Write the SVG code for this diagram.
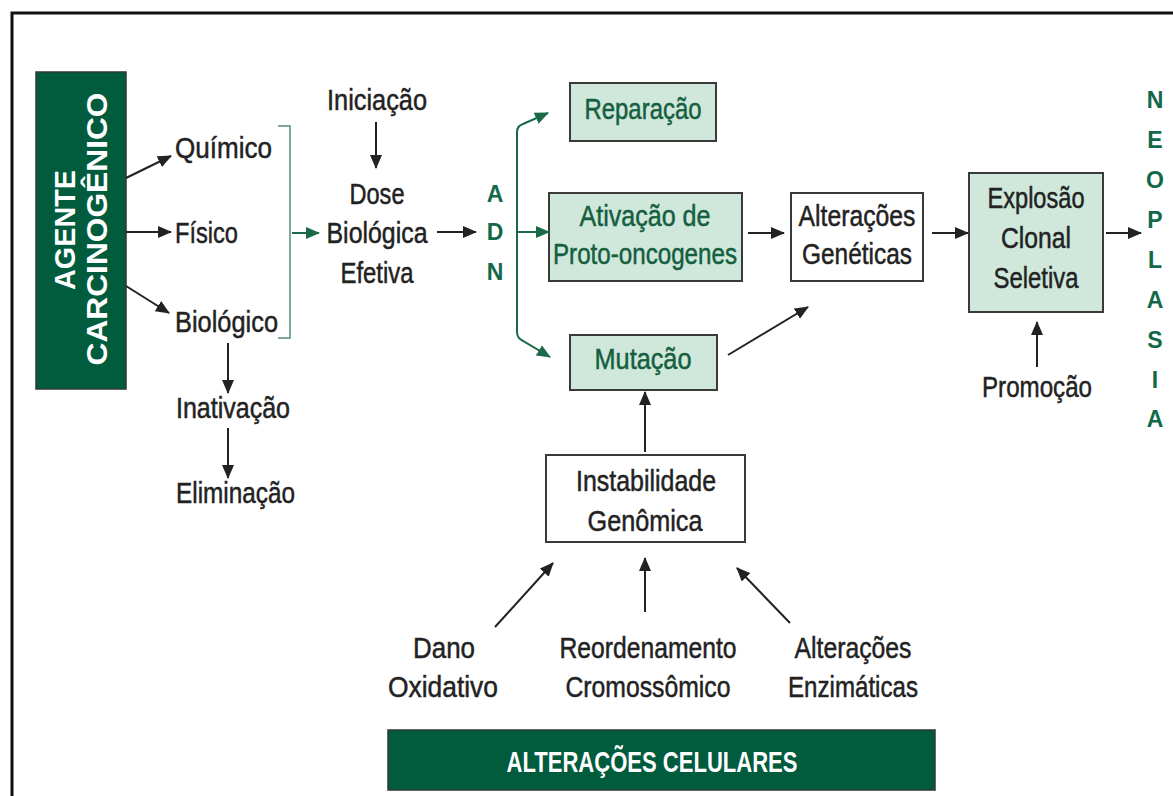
<svg xmlns="http://www.w3.org/2000/svg" width="1173" height="796" viewBox="0 0 1173 796">
<defs>
<style>
.t{font-family:"Liberation Sans",Arial,sans-serif;font-size:30px;fill:#222;stroke:#222;stroke-width:0.5;text-anchor:middle}
.s{text-anchor:start}
.g{fill:#155e3f;stroke:#155e3f}
.w{fill:#ffffff;stroke:none;font-weight:bold}
.L{font-family:"Liberation Sans",Arial,sans-serif;font-size:23px;font-weight:bold;fill:#12694a;text-anchor:middle}
.box{stroke:#3a3a3a;stroke-width:2}
.mint{fill:#cfe8db}
.wht{fill:#ffffff}
.dk{fill:#015b3d;stroke:#2c3a33;stroke-width:1.5}
.a{stroke:#222;stroke-width:2;fill:none;marker-end:url(#ab)}
.ag{stroke:#1a6a4a;stroke-width:2;fill:none;marker-end:url(#ag)}
</style>
<marker id="ab" markerUnits="userSpaceOnUse" markerWidth="14" markerHeight="12" viewBox="0 0 14 12" refX="13" refY="6" orient="auto">
<path d="M0,0 L14,6 L0,12 Z" fill="#222"/>
</marker>
<marker id="ag" markerUnits="userSpaceOnUse" markerWidth="14" markerHeight="12" viewBox="0 0 14 12" refX="13" refY="6" orient="auto">
<path d="M0,0 L14,6 L0,12 Z" fill="#1a6a4a"/>
</marker>
</defs>
<rect width="1173" height="796" fill="#ffffff"/>
<path d="M12,796 L12,13 L1173,13" fill="none" stroke="#111" stroke-width="3"/>

<g id="agente">
<rect class="dk" x="36" y="72" width="90" height="317"/>
<text class="t w" font-size="25" transform="translate(75,230) rotate(-90)" textLength="120" lengthAdjust="spacingAndGlyphs">AGENTE</text>
<text class="t w" font-size="26" transform="translate(107,229) rotate(-90)" textLength="273" lengthAdjust="spacingAndGlyphs">CARCINOGÊNICO</text>
</g>
<g id="quimico"><text class="t s" x="175" y="158" textLength="97" lengthAdjust="spacingAndGlyphs">Químico</text></g>
<g id="fisico"><text class="t s" x="175" y="243" textLength="63" lengthAdjust="spacingAndGlyphs">Físico</text></g>
<g id="biologico"><text class="t s" x="175" y="332" textLength="103" lengthAdjust="spacingAndGlyphs">Biológico</text></g>
<g id="inativacao"><text class="t s" x="176" y="418" textLength="114" lengthAdjust="spacingAndGlyphs">Inativação</text></g>
<g id="eliminacao"><text class="t s" x="176" y="503" textLength="119" lengthAdjust="spacingAndGlyphs">Eliminação</text></g>
<g id="iniciacao"><text class="t" x="377" y="110" textLength="100" lengthAdjust="spacingAndGlyphs">Iniciação</text></g>
<g id="dose">
<text class="t" x="377" y="204" textLength="55" lengthAdjust="spacingAndGlyphs">Dose</text>
<text class="t" x="377" y="243" textLength="101" lengthAdjust="spacingAndGlyphs">Biológica</text>
<text class="t" x="377" y="283" textLength="73" lengthAdjust="spacingAndGlyphs">Efetiva</text>
</g>
<g id="adn">
<text class="L" x="495" y="202">A</text>
<text class="L" x="495" y="240">D</text>
<text class="L" x="495" y="280">N</text>
</g>
<g id="reparacao">
<rect class="box mint" x="570" y="83" width="146" height="58"/>
<text class="t g" x="643" y="119" textLength="117" lengthAdjust="spacingAndGlyphs">Reparação</text>
</g>
<g id="ativacao">
<rect class="box mint" x="549" y="193" width="193" height="88"/>
<text class="t g" x="645" y="226" textLength="131" lengthAdjust="spacingAndGlyphs">Ativação de</text>
<text class="t g" x="645" y="264" textLength="184" lengthAdjust="spacingAndGlyphs">Proto-oncogenes</text>
</g>
<g id="mutacao">
<rect class="box mint" x="570" y="335" width="147" height="55"/>
<text class="t g" x="643" y="369" textLength="97" lengthAdjust="spacingAndGlyphs">Mutação</text>
</g>
<g id="alteracoes-geneticas">
<rect class="box wht" x="791" y="193" width="132" height="88"/>
<text class="t" x="857" y="226" textLength="117" lengthAdjust="spacingAndGlyphs">Alterações</text>
<text class="t" x="857" y="264" textLength="110" lengthAdjust="spacingAndGlyphs">Genéticas</text>
</g>
<g id="explosao">
<rect class="box mint" x="969" y="173" width="134" height="139"/>
<text class="t" x="1036" y="208" textLength="97" lengthAdjust="spacingAndGlyphs">Explosão</text>
<text class="t" x="1036" y="248" textLength="70" lengthAdjust="spacingAndGlyphs">Clonal</text>
<text class="t" x="1036" y="288" textLength="85" lengthAdjust="spacingAndGlyphs">Seletiva</text>
</g>
<g id="neoplasia">
<text class="L" x="1155" y="108">N</text>
<text class="L" x="1155" y="148">E</text>
<text class="L" x="1155" y="188">O</text>
<text class="L" x="1155" y="228">P</text>
<text class="L" x="1155" y="268">L</text>
<text class="L" x="1155" y="308">A</text>
<text class="L" x="1155" y="348">S</text>
<text class="L" x="1155" y="388">I</text>
<text class="L" x="1155" y="427">A</text>
</g>
<g id="promocao"><text class="t" x="1037" y="397" textLength="110" lengthAdjust="spacingAndGlyphs">Promoção</text></g>
<g id="instabilidade">
<rect class="box wht" x="546" y="455" width="199" height="87"/>
<text class="t" x="646" y="491" textLength="140" lengthAdjust="spacingAndGlyphs">Instabilidade</text>
<text class="t" x="645" y="531" textLength="115" lengthAdjust="spacingAndGlyphs">Genômica</text>
</g>
<g id="dano">
<text class="t" x="444" y="658" textLength="62" lengthAdjust="spacingAndGlyphs">Dano</text>
<text class="t" x="443" y="697" textLength="110" lengthAdjust="spacingAndGlyphs">Oxidativo</text>
</g>
<g id="reordenamento">
<text class="t" x="648" y="658" textLength="177" lengthAdjust="spacingAndGlyphs">Reordenamento</text>
<text class="t" x="648" y="697" textLength="165" lengthAdjust="spacingAndGlyphs">Cromossômico</text>
</g>
<g id="enzimaticas">
<text class="t" x="853" y="658" textLength="117" lengthAdjust="spacingAndGlyphs">Alterações</text>
<text class="t" x="853" y="697" textLength="130" lengthAdjust="spacingAndGlyphs">Enzimáticas</text>
</g>
<g id="alteracoes-celulares">
<rect class="dk" x="388" y="730" width="547" height="60"/>
<text class="t w" x="652" y="772" font-size="28" textLength="291" lengthAdjust="spacingAndGlyphs">ALTERAÇÕES CELULARES</text>
</g>

<g id="connectors">
<line class="a" x1="126" y1="178" x2="171" y2="156"/>
<line class="a" x1="126" y1="232" x2="171" y2="232"/>
<line class="a" x1="126" y1="286" x2="169" y2="313"/>
<path d="M278,126 L290,126 L290,338 L278,338" fill="none" stroke="#7fa898" stroke-width="2"/>
<line class="ag" x1="292" y1="233" x2="319" y2="233"/>
<line class="a" x1="228" y1="343" x2="228" y2="393"/>
<line class="a" x1="228" y1="428" x2="228" y2="478"/>
<line class="a" x1="376" y1="122" x2="376" y2="168"/>
<line class="a" x1="437" y1="232" x2="476" y2="232"/>
<path class="ag" d="M517,232 L517,132 Q517,126 523,124 L548,113"/>
<line class="ag" x1="517" y1="232" x2="549" y2="232"/>
<path class="ag" d="M517,232 L517,332 Q517,338 523,341 L550,357"/>
<line class="a" x1="748" y1="233" x2="784" y2="233"/>
<line class="a" x1="728" y1="355" x2="808" y2="307"/>
<line class="a" x1="932" y1="233" x2="968" y2="233"/>
<line class="a" x1="1106" y1="233" x2="1141" y2="233"/>
<line class="a" x1="1037" y1="367" x2="1037" y2="322"/>
<line class="a" x1="645" y1="452" x2="645" y2="392"/>
<line class="a" x1="495" y1="627" x2="553" y2="563"/>
<line class="a" x1="645" y1="612" x2="645" y2="558"/>
<line class="a" x1="790" y1="623" x2="737" y2="568"/>
</g>
</svg>
